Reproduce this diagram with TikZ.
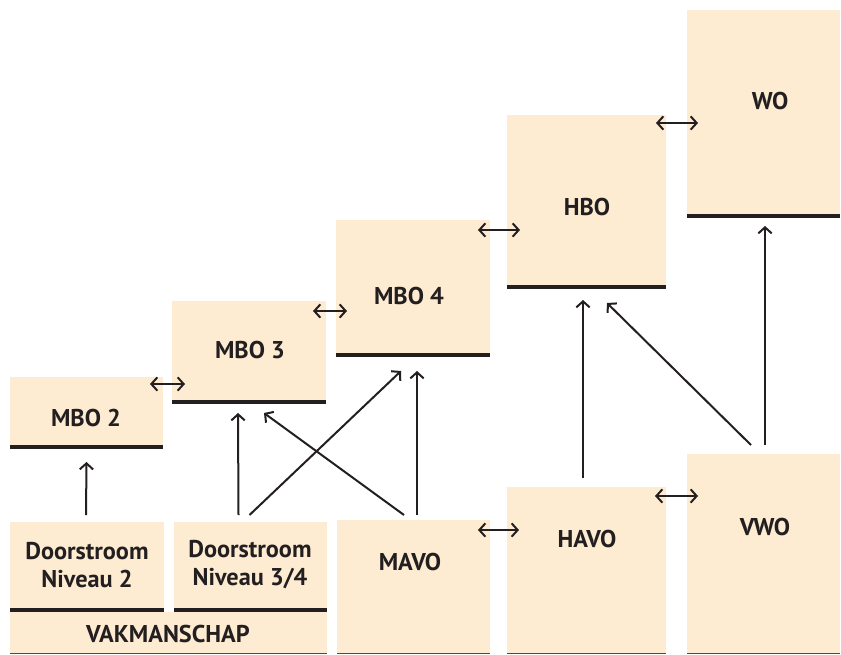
\documentclass[tikz,border=0pt]{standalone}
\usepackage{fontspec}
\setmainfont{PT Sans}
\usetikzlibrary{fit,calc,arrows.meta}
\definecolor{boxfill}{RGB}{253,236,210}
\definecolor{ink}{RGB}{35,31,32}
\tikzset{
  box/.style={fill=boxfill, draw=none, inner sep=0pt, outer sep=0pt},
  lbl/.style={font=\bfseries\fontsize{18.2}{21}\selectfont, text=ink, align=center, inner sep=0pt},
  bar/.style={draw=ink, line width=3pt},
  thin/.style={draw=ink!80, line width=0.8pt},
  tip/.tip={Straight Barb[length=4.5pt,width=10pt,line width=1.5pt]},
  arr/.style={draw=ink, line width=1.5pt, -tip},
  darr/.style={draw=ink, line width=1.5pt, tip-tip}
}
\begin{document}
\begin{tikzpicture}[x=0.75pt,y=-0.75pt]
\useasboundingbox (0,0) rectangle (841,654);
% boxes
\node[box, fit={(10,377)(163,449)}] (mbo2) {};
\node[box, fit={(172,301)(326,404)}] (mbo3) {};
\node[box, fit={(336,220)(490,357)}] (mbo4) {};
\node[box, fit={(507,115)(666,289)}] (hbo) {};
\node[box, fit={(687,10)(840,218)}] (wo) {};
\node[box, fit={(10,522)(164,612)}] (d2) {};
\node[box, fit={(174,522)(327,612)}] (d34) {};
\node[box, fit={(10,612)(327,654)}] (vak) {};
\node[box, fit={(337,520)(490,654)}] (mavo) {};
\node[box, fit={(507,487)(666,654)}] (havo) {};
\node[box, fit={(687,454)(840,654)}] (vwo) {};
% bars
\foreach \n in {mbo2,mbo3,mbo4,hbo,wo,d2,d34}
  \draw[bar] ($(\n.south west)+(0,-2)$) -- ($(\n.south east)+(0,-2)$);
\foreach \n in {vak,mavo,havo,vwo}
  \draw[thin] ($(\n.south west)+(0,-0.5)$) -- ($(\n.south east)+(0,-0.5)$);
% labels
\node[lbl] (tmbo2) at (86,418) {MBO 2};
\node[lbl] (tmbo3) at (250,350) {MBO 3};
\node[lbl] (tmbo4) at (409,296) {MBO 4};
\node[lbl] (thbo) at (587,207) {HBO};
\node[lbl] (two) at (770,101) {WO};
\node[lbl] (td2) at (87,565) {Doorstroom\\Niveau 2};
\node[lbl] (td34) at (250,565) {Doorstroom\\Niveau 3/4};
\node[lbl] (tvak) at (168,634) {VAKMANSCHAP};
\node[lbl] (tmavo) at (410,562) {MAVO};
\node[lbl] (thavo) at (587,539) {HAVO};
\node[lbl] (tvwo) at (765,527) {VWO};
% vertical / diagonal arrows
\draw[arr] ($(d2.north)+(-1,-7)$) -- ($(mbo2.south)+(0,13)$);
\draw[arr] ($(d34.north)+(-12,-7)$) -- ($(mbo3.south)+(-11,9)$);
\draw[arr] ($(d34.north)+(-1,-7)$) -- ($(mbo4.south)+(-12,14)$);
\draw[arr] ($(mavo.north)+(-9.5,-5)$) -- ($(mbo3.south)+(15,9)$);
\draw[arr] ($(mavo.north)+(3.5,-5)$) -- ($(mbo4.south)+(4,14)$);
\draw[arr] ($(havo.north)+(-3.5,-9)$) -- ($(hbo.south)+(-3.5,11)$);
\draw[arr] ($(vwo.north)+(-12.5,-9)$) -- ($(hbo.south)+(20.5,14)$);
\draw[arr] ($(vwo.north)+(1.5,-9)$) -- ($(wo.south)+(1.5,8)$);
% double arrows
\draw[darr] ($(mbo2.north east)+(-13,7)$) -- ($(mbo2.north east -| mbo3.west)+(13,7)$);
\draw[darr] ($(mbo3.north east)+(-13,10)$) -- ($(mbo3.north east -| mbo4.west)+(11,10)$);
\draw[darr] ($(mbo4.north east)+(-12,10)$) -- ($(mbo4.north east -| hbo.west)+(13,10)$);
\draw[darr] ($(hbo.north east)+(-10,8)$) -- ($(hbo.north east -| wo.west)+(11,8)$);
\draw[darr] ($(mavo.north east)+(-12,10)$) -- ($(mavo.north east -| havo.west)+(12,10)$);
\draw[darr] ($(havo.north east)+(-11,9)$) -- ($(havo.north east -| vwo.west)+(11,9)$);
\end{tikzpicture}
\end{document}
